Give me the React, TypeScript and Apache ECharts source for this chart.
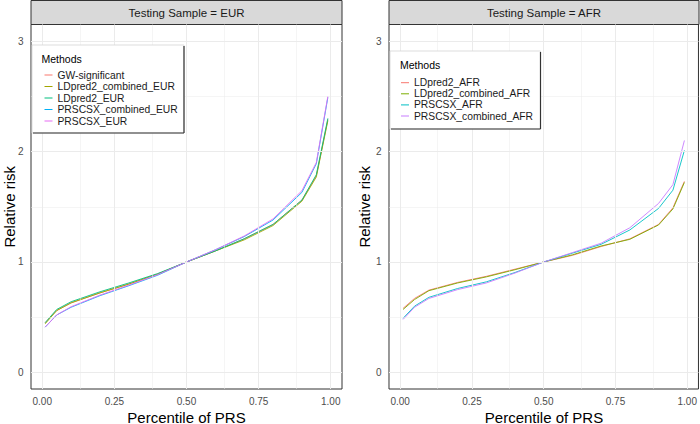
import React, { useEffect, useRef } from "react";
import * as echarts from "echarts";

// ---------- data ----------
const percentiles = [0.01, 0.05, 0.1, 0.2, 0.3, 0.4, 0.5, 0.6, 0.7, 0.8, 0.9, 0.95, 0.99];

const xTicks = [0, 0.25, 0.5, 0.75, 1];
const xMinor = [0.125, 0.375, 0.625, 0.875];
const yTicks = [0, 1, 2, 3];
const yMinor = [0.5, 1.5, 2.5];

const eurMethods = ["GW-significant", "LDpred2_combined_EUR", "LDpred2_EUR", "PRSCSX_combined_EUR", "PRSCSX_EUR"];
const eurColors = ["#F8766D", "#A3A500", "#00BF7D", "#00B0F6", "#E76BF3"];
const gwSignificantEUR = [0.45, 0.56, 0.63, 0.72, 0.8, 0.89, 1.0, 1.1, 1.21, 1.34, 1.56, 1.78, 2.29];
const ldpred2CombinedEUR = [0.44, 0.56, 0.63, 0.72, 0.8, 0.89, 1.0, 1.1, 1.2, 1.33, 1.55, 1.77, 2.28];
const ldpred2EUR = [0.45, 0.57, 0.64, 0.73, 0.81, 0.895, 1.0, 1.1, 1.21, 1.34, 1.56, 1.79, 2.3];
const prscsxCombinedEUR = [0.41, 0.52, 0.59, 0.695, 0.785, 0.88, 1.0, 1.11, 1.23, 1.38, 1.63, 1.89, 2.49];
const prscsxEUR = [0.41, 0.52, 0.595, 0.7, 0.79, 0.885, 1.0, 1.11, 1.235, 1.39, 1.645, 1.9, 2.5];
const eurValues = [gwSignificantEUR, ldpred2CombinedEUR, ldpred2EUR, prscsxCombinedEUR, prscsxEUR];

const afrMethods = ["LDpred2_AFR", "LDpred2_combined_AFR", "PRSCSX_AFR", "PRSCSX_combined_AFR"];
const afrColors = ["#F8766D", "#7CAE00", "#00BFC4", "#C77CFF"];
const ldpred2AFR = [0.58, 0.67, 0.745, 0.815, 0.87, 0.935, 1.0, 1.06, 1.14, 1.21, 1.34, 1.49, 1.73];
const ldpred2CombinedAFR = [0.57, 0.66, 0.74, 0.81, 0.865, 0.93, 1.0, 1.065, 1.145, 1.205, 1.335, 1.48, 1.72];
const prscsxAFR = [0.49, 0.6, 0.68, 0.76, 0.82, 0.905, 1.0, 1.08, 1.16, 1.29, 1.485, 1.65, 2.01];
const prscsxCombinedAFR = [0.48, 0.59, 0.67, 0.75, 0.81, 0.9, 1.0, 1.085, 1.17, 1.31, 1.53, 1.7, 2.1];
const afrValues = [ldpred2AFR, ldpred2CombinedAFR, prscsxAFR, prscsxCombinedAFR];

const panelTitles = ["Testing Sample = EUR", "Testing Sample = AFR"];
const xTitle = "Percentile of PRS";
const yTitle = "Relative risk";
const legendTitle = "Methods";

// ---------- layout ----------
const FONT = '"Liberation Sans", Arial, sans-serif';
const panels = [
  { left: 31, width: 311 },
  { left: 389, width: 310 },
];
const TOP = 24.5;
const HEIGHT = 364.5;

function gridSeries(idx: number) {
  const major = "#EBEBEB";
  const data: any[] = [];
  xTicks.forEach((v) => data.push({ xAxis: v, lineStyle: { color: major, width: 1, type: "solid" } }));
  xMinor.forEach((v) => data.push({ xAxis: v, lineStyle: { color: major, width: 0.5, type: "solid" } }));
  yTicks.forEach((v) => data.push({ yAxis: v, lineStyle: { color: major, width: 1, type: "solid" } }));
  yMinor.forEach((v) => data.push({ yAxis: v, lineStyle: { color: major, width: 0.5, type: "solid" } }));
  return {
    name: "_grid" + idx,
    type: "line",
    xAxisIndex: idx,
    yAxisIndex: idx,
    data: [[0.5, 1]],
    symbol: "none",
    lineStyle: { opacity: 0 },
    silent: true,
    z: 1,
    markLine: {
      silent: true,
      symbol: ["none", "none"],
      label: { show: false },
      emphasis: { disabled: true },
      animation: false,
      data,
    },
  };
}

function dataSeries(names: string[], colors: string[], values: number[][], idx: number) {
  return names.map((name, i) => ({
    name,
    type: "line",
    xAxisIndex: idx,
    yAxisIndex: idx,
    symbol: "none",
    color: colors[i],
    lineStyle: { color: colors[i], width: 0.9 },
    z: 3,
    data: percentiles.map((p, j) => [p, values[i][j]]),
  }));
}

function axisPair(idx: number) {
  const x = {
    gridIndex: idx,
    type: "value",
    min: -0.039,
    max: 1.039,
    axisLine: { show: false },
    axisTick: { show: true, length: 4, customValues: xTicks, lineStyle: { color: "#333333", width: 1 } },
    axisLabel: {
      customValues: xTicks,
      formatter: (v: number) => v.toFixed(2),
      margin: 7,
      fontSize: 10,
      color: "#4D4D4D",
      fontFamily: FONT,
    },
    splitLine: { show: false },
  };
  const y = {
    gridIndex: idx,
    type: "value",
    min: -0.15,
    max: 3.15,
    axisLine: { show: false },
    axisTick: { show: true, length: 4, customValues: yTicks, lineStyle: { color: "#333333", width: 1 } },
    axisLabel: {
      customValues: yTicks,
      formatter: (v: number) => String(v),
      margin: 7.5,
      fontSize: 10,
      color: "#4D4D4D",
      fontFamily: FONT,
    },
    splitLine: { show: false },
  };
  return { x, y };
}

function legendBox(x0: number, y0: number, x1: number, y1: number, titleX: number, titleY: number) {
  return [
    {
      type: "rect",
      z: 10,
      shape: { x: x0, y: y0, width: x1 - x0, height: y1 - y0 },
      style: { fill: "#FFFFFF", stroke: "#D4D4D4", lineWidth: 0.8 },
      silent: true,
    },
    {
      type: "line",
      z: 11,
      shape: { x1: x1, y1: y0 + 1, x2: x1, y2: y1 },
      style: { stroke: "#333333", lineWidth: 1.2 },
      silent: true,
    },
    {
      type: "line",
      z: 11,
      shape: { x1: x0 + 1, y1: y1, x2: x1, y2: y1 },
      style: { stroke: "#333333", lineWidth: 1.2 },
      silent: true,
    },
    {
      type: "text",
      z: 12,
      x: titleX,
      y: titleY,
      style: {
        text: legendTitle,
        font: `10.5px ${FONT}`,
        fill: "#000000",
        align: "left",
        verticalAlign: "middle",
      },
      silent: true,
    },
  ];
}

export default function App() {
  const ref = useRef<HTMLDivElement>(null);

  useEffect(() => {
    if (!ref.current) return;
    const chart = echarts.init(ref.current, undefined, { renderer: "svg" });
    const a0 = axisPair(0);
    const a1 = axisPair(1);

    const graphics: any[] = [];
    panels.forEach((p, i) => {
      graphics.push({
        type: "rect",
        z: 5,
        shape: { x: p.left, y: 0.5, width: p.width, height: TOP - 0.5 },
        style: { fill: "#D9D9D9", stroke: "#333333", lineWidth: 1 },
        silent: true,
      });
      graphics.push({
        type: "text",
        z: 6,
        x: p.left + p.width / 2,
        y: 13,
        style: {
          text: panelTitles[i],
          font: `11.5px ${FONT}`,
          fill: "#1A1A1A",
          align: "center",
          verticalAlign: "middle",
        },
        silent: true,
      });
      graphics.push({
        type: "text",
        z: 6,
        x: p.left + p.width / 2,
        y: 417,
        style: {
          text: xTitle,
          font: `15px ${FONT}`,
          fill: "#000000",
          align: "center",
          verticalAlign: "middle",
        },
        silent: true,
      });
      graphics.push({
        type: "text",
        z: 6,
        x: i === 0 ? 9 : 364,
        y: TOP + HEIGHT / 2,
        rotation: Math.PI / 2,
        style: {
          text: yTitle,
          font: `15px ${FONT}`,
          fill: "#000000",
          align: "center",
          verticalAlign: "middle",
        },
        silent: true,
      });
    });
    graphics.push(...legendBox(32, 45, 184, 133, 41.5, 59));
    graphics.push(...legendBox(390, 51, 540.5, 129, 400, 65));

    const legendCommon = {
      orient: "vertical",
      icon: "rect",
      itemWidth: 8,
      itemHeight: 1,
      itemGap: 0,
      padding: 0,
      selectedMode: false,
      z: 20,
      textStyle: { fontSize: 10.3, color: "#1A1A1A", fontFamily: FONT, padding: 0 },
    };

    chart.setOption({
      animation: false,
      backgroundColor: "#FFFFFF",
      grid: panels.map((p) => ({
        left: p.left,
        top: TOP,
        width: p.width,
        height: HEIGHT,
        show: true,
        backgroundColor: "#FFFFFF",
        borderColor: "#333333",
        borderWidth: 1,
        containLabel: false,
      })),
      xAxis: [a0.x, a1.x],
      yAxis: [a0.y, a1.y],
      legend: [
        {
          ...legendCommon,
          data: eurMethods,
          left: 44.5,
          top: 75 - 5.75,
          textStyle: { ...legendCommon.textStyle, lineHeight: 11.5 },
        },
        {
          ...legendCommon,
          data: afrMethods,
          left: 401,
          top: 82.7 - 5.55,
          textStyle: { ...legendCommon.textStyle, lineHeight: 11.1 },
        },
      ],
      graphic: graphics,
      series: [
        gridSeries(0),
        gridSeries(1),
        ...dataSeries(eurMethods, eurColors, eurValues, 0),
        ...dataSeries(afrMethods, afrColors, afrValues, 1),
      ],
    });
    return () => chart.dispose();
  }, []);

  return (
    <div
      ref={ref}
      style={{ position: "fixed", left: 0, top: 0, width: 700, height: 424, background: "#fff" }}
    />
  );
}
